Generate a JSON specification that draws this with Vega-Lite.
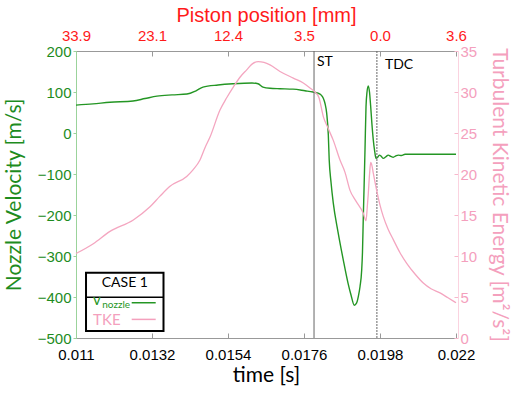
{
  "$schema": "https://vega.github.io/schema/vega-lite/v6.json",
  "width": 380,
  "height": 287,
  "autosize": "none",
  "padding": {"left": 76, "top": 51, "right": 59, "bottom": 56},
  "background": "white",
  "config": {
    "view": {"stroke": null},
    "axis": {"grid": false, "labelFont": "Liberation Sans", "labelFontSize": 15, "titleFont": "Lato", "titleFontWeight": "normal", "titleFontSize": 21, "labelFlush": false, "labelOverlap": false}
  },
  "datasets": {
    "velocity": [
      {"time": 0.011, "v": 68}, {"time": 0.011492, "v": 71}, {"time": 0.011984, "v": 75},
      {"time": 0.01265, "v": 78}, {"time": 0.012997, "v": 84}, {"time": 0.013345, "v": 90},
      {"time": 0.013779, "v": 93}, {"time": 0.014213, "v": 95}, {"time": 0.014474, "v": 103},
      {"time": 0.014676, "v": 112}, {"time": 0.015111, "v": 117}, {"time": 0.015545, "v": 120},
      {"time": 0.016095, "v": 122}, {"time": 0.016268, "v": 120}, {"time": 0.016413, "v": 112},
      {"time": 0.016616, "v": 109}, {"time": 0.016905, "v": 108}, {"time": 0.017282, "v": 107},
      {"time": 0.017629, "v": 103}, {"time": 0.017861, "v": 100}, {"time": 0.018005, "v": 97},
      {"time": 0.018092, "v": 93}, {"time": 0.018159, "v": 85}, {"time": 0.018208, "v": 72},
      {"time": 0.018257, "v": 48}, {"time": 0.018304, "v": -5}, {"time": 0.01833, "v": -66},
      {"time": 0.018382, "v": -120}, {"time": 0.018448, "v": -171}, {"time": 0.018584, "v": -241},
      {"time": 0.018738, "v": -310}, {"time": 0.018874, "v": -366}, {"time": 0.018961, "v": -395},
      {"time": 0.019056, "v": -420}, {"time": 0.01912, "v": -415}, {"time": 0.019172, "v": -399},
      {"time": 0.019221, "v": -375}, {"time": 0.01927, "v": -334}, {"time": 0.019293, "v": -290},
      {"time": 0.019317, "v": -204}, {"time": 0.019337, "v": -139}, {"time": 0.019366, "v": -40},
      {"time": 0.019395, "v": 64}, {"time": 0.019424, "v": 100}, {"time": 0.019461, "v": 115},
      {"time": 0.019496, "v": 100}, {"time": 0.019531, "v": 64}, {"time": 0.019568, "v": 20},
      {"time": 0.019606, "v": -17}, {"time": 0.019647, "v": -45}, {"time": 0.019684, "v": -62},
      {"time": 0.019728, "v": -60}, {"time": 0.01978, "v": -54}, {"time": 0.019838, "v": -57},
      {"time": 0.019896, "v": -62}, {"time": 0.019968, "v": -58}, {"time": 0.02004, "v": -54},
      {"time": 0.020113, "v": -57}, {"time": 0.020185, "v": -59}, {"time": 0.020257, "v": -56},
      {"time": 0.02033, "v": -54}, {"time": 0.020422, "v": -55}, {"time": 0.020524, "v": -52},
      {"time": 0.022, "v": -52}
    ],
    "tke": [
      {"time": 0.011, "k": 10.3}, {"time": 0.011501, "k": 11.5}, {"time": 0.011984, "k": 13.0},
      {"time": 0.012659, "k": 14.4}, {"time": 0.013142, "k": 16.0}, {"time": 0.013432, "k": 17.3},
      {"time": 0.013721, "k": 18.5}, {"time": 0.014204, "k": 19.7}, {"time": 0.014387, "k": 20.5},
      {"time": 0.014589, "k": 21.7}, {"time": 0.014734, "k": 23.2}, {"time": 0.014879, "k": 24.5},
      {"time": 0.015168, "k": 27.8}, {"time": 0.015362, "k": 29.3}, {"time": 0.015553, "k": 30.6},
      {"time": 0.015747, "k": 31.8}, {"time": 0.015941, "k": 32.7}, {"time": 0.016095, "k": 33.4},
      {"time": 0.016277, "k": 33.7}, {"time": 0.016442, "k": 33.6}, {"time": 0.016616, "k": 33.3},
      {"time": 0.016905, "k": 32.5}, {"time": 0.01729, "k": 31.7}, {"time": 0.01758, "k": 31.1},
      {"time": 0.017774, "k": 30.5}, {"time": 0.017918, "k": 30.0}, {"time": 0.018034, "k": 29.3},
      {"time": 0.018159, "k": 27.0}, {"time": 0.018295, "k": 25.6}, {"time": 0.018448, "k": 24.1},
      {"time": 0.018642, "k": 21.7}, {"time": 0.018787, "k": 20.2}, {"time": 0.018932, "k": 18.0},
      {"time": 0.019105, "k": 16.7}, {"time": 0.019317, "k": 15.2}, {"time": 0.019395, "k": 14.3},
      {"time": 0.019432, "k": 16.0}, {"time": 0.019461, "k": 17.6}, {"time": 0.019496, "k": 19.9},
      {"time": 0.019531, "k": 21.4}, {"time": 0.019568, "k": 21.0}, {"time": 0.019606, "k": 20.1},
      {"time": 0.019704, "k": 18.0}, {"time": 0.0198, "k": 16.2}, {"time": 0.019896, "k": 14.8},
      {"time": 0.020032, "k": 13.3}, {"time": 0.020185, "k": 12.0}, {"time": 0.020379, "k": 10.4},
      {"time": 0.020573, "k": 9.1}, {"time": 0.020813, "k": 7.8}, {"time": 0.021053, "k": 6.7},
      {"time": 0.021276, "k": 6.0}, {"time": 0.021537, "k": 5.5}, {"time": 0.021768, "k": 4.9},
      {"time": 0.022, "k": 4.3}
    ],
    "events": [
      {"time": 0.01789, "event": "ST", "dash": "solid"},
      {"time": 0.01971, "event": "TDC", "dash": "dotted"}
    ],
    "single": [{}]
  },
  "layer": [
    {
      "layer": [
        {
          "data": {"name": "velocity"},
          "mark": {"type": "line", "color": "#249624", "strokeWidth": 1.4, "interpolate": "monotone"},
          "encoding": {
            "x": {
              "field": "time", "type": "quantitative",
              "scale": {"domain": [0.011, 0.022], "nice": false, "zero": false},
              "axis": {
                "orient": "bottom", "title": "time [s]", "titleColor": "#000000",
                "values": [0.011, 0.0132, 0.0154, 0.0176, 0.0198, 0.022],
                "format": ".4~f", "labelColor": "#000000",
                "domainColor": "#999999", "tickColor": "#999999", "tickSize": -5,
                "labelPadding": 14, "titlePadding": 2
              }
            },
            "y": {
              "field": "v", "type": "quantitative",
              "scale": {"domain": [-500, 200], "nice": false, "zero": false},
              "axis": {
                "orient": "left", "title": "Nozzle Velocity [m/s]", "titleColor": "#1e8c1e",
                "values": [-500, -400, -300, -200, -100, 0, 100, 200],
                "labelColor": "#1e8c1e", "domainColor": "#9bd39b", "tickColor": "#9bd39b",
                "tickSize": 3, "labelPadding": 2, "titlePadding": 13
              }
            }
          }
        },
        {
          "data": {"name": "events"},
          "mark": {"type": "rule", "color": "#666666", "strokeWidth": 1},
          "encoding": {
            "x": {"field": "time", "type": "quantitative"},
            "strokeDash": {"field": "dash", "type": "nominal", "scale": {"domain": ["solid", "dotted"], "range": [[1, 0], [2, 1]]}, "legend": null}
          }
        },
        {
          "data": {"name": "single"},
          "mark": {"type": "text", "align": "left", "baseline": "top", "dx": 3, "dy": 4, "font": "Lato", "fontSize": 14, "color": "#000000"},
          "encoding": {"x": {"datum": 0.01789}, "y": {"datum": 200}, "text": {"value": "ST"}}
        },
        {
          "data": {"name": "single"},
          "mark": {"type": "text", "align": "left", "baseline": "top", "dx": 8, "dy": 7, "font": "Lato", "fontSize": 14, "color": "#000000"},
          "encoding": {"x": {"datum": 0.01971}, "y": {"datum": 200}, "text": {"value": "TDC"}}
        },
        {
          "data": {"name": "single"},
          "mark": {"type": "rect", "fill": "white", "stroke": "#000000", "strokeWidth": 2},
          "encoding": {
            "x": {"datum": 0.01129}, "x2": {"datum": 0.013533},
            "y": {"datum": -340.7}, "y2": {"datum": -483}
          }
        },
        {
          "data": {"name": "single"},
          "mark": {"type": "rule", "stroke": "#000000", "strokeWidth": 1.5},
          "encoding": {
            "x": {"datum": 0.01129}, "x2": {"datum": 0.013533},
            "y": {"datum": -400.7}
          }
        },
        {
          "data": {"name": "single"},
          "mark": {"type": "text", "align": "center", "baseline": "middle", "font": "Lato", "fontSize": 14, "color": "#000000"},
          "encoding": {"x": {"datum": 0.012413}, "y": {"datum": -365}, "text": {"value": "CASE 1"}}
        },
        {
          "data": {"name": "single"},
          "mark": {"type": "text", "align": "left", "baseline": "middle", "font": "Lato", "fontSize": 15, "color": "#249624"},
          "encoding": {"x": {"datum": 0.011495}, "y": {"datum": -408}, "text": {"value": "v"}}
        },
        {
          "data": {"name": "single"},
          "mark": {"type": "text", "align": "left", "baseline": "middle", "font": "Lato", "fontSize": 10, "color": "#249624"},
          "encoding": {"x": {"datum": 0.01176}, "y": {"datum": -419}, "text": {"value": "nozzle"}}
        },
        {
          "data": {"name": "single"},
          "mark": {"type": "text", "align": "left", "baseline": "middle", "font": "Lato", "fontSize": 15, "color": "#f4a0bd"},
          "encoding": {"x": {"datum": 0.011495}, "y": {"datum": -457}, "text": {"value": "TKE"}}
        },
        {
          "data": {"name": "single"},
          "mark": {"type": "rule", "stroke": "#249624", "strokeWidth": 1.5},
          "encoding": {"x": {"datum": 0.012612}, "x2": {"datum": 0.013307}, "y": {"datum": -414}}
        },
        {
          "data": {"name": "single"},
          "mark": {"type": "rule", "stroke": "#f4a0bd", "strokeWidth": 1.5},
          "encoding": {"x": {"datum": 0.012612}, "x2": {"datum": 0.013307}, "y": {"datum": -454.6}}
        }
      ]
    },
    {
      "data": {"name": "tke"},
      "mark": {"type": "line", "color": "#f4a6c0", "strokeWidth": 1.3, "interpolate": "monotone"},
      "encoding": {
        "x": {
          "field": "time", "type": "quantitative",
          "scale": {"domain": [0.011, 0.022], "nice": false, "zero": false},
          "axis": {
            "orient": "top", "title": "Piston position [mm]", "titleColor": "#ff1a1a",
            "titleFont": "Liberation Sans", "titleFontSize": 20, "titlePadding": 3,
            "values": [0.011, 0.0132, 0.0154, 0.0176, 0.0198, 0.022],
            "labelExpr": "['33.9', '23.1', '12.4', '3.5', '0.0', '3.6'][round((datum.value - 0.011) / 0.0022)]",
            "labelColor": "#ff1a1a", "domainColor": "#999999", "tickColor": "#999999", "tickSize": -5,
            "labelPadding": 13
          }
        },
        "y": {
          "field": "k", "type": "quantitative",
          "scale": {"domain": [0, 35], "nice": false, "zero": true},
          "axis": {
            "orient": "right", "title": "Turbulent Kinetic Energy [m²/s²]", "titleColor": "#f4a0bd",
            "values": [0, 5, 10, 15, 20, 25, 30, 35],
            "labelColor": "#f4a0bd", "domainColor": "#fbd3e0", "tickColor": "#f7b8cc",
            "tickSize": -4, "offset": 2, "labelPadding": 6, "titlePadding": 12
          }
        }
      }
    }
  ],
  "resolve": {"scale": {"y": "independent"}, "axis": {"x": "independent"}}
}
